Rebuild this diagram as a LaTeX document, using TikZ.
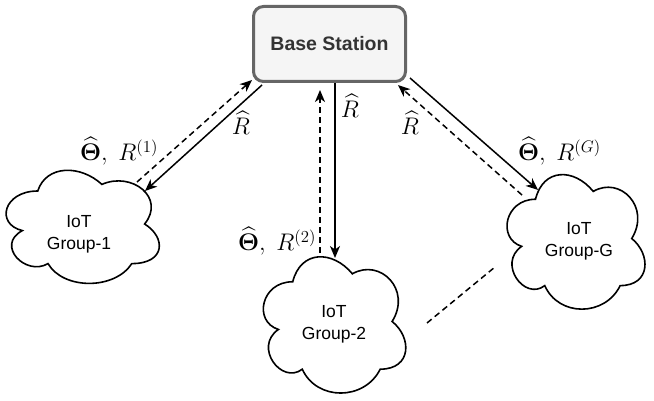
\documentclass[tikz,border=0pt]{standalone}
\usepackage{fix-cm}
\usepackage{amsmath,amssymb}
\usepackage{fontspec}
\newfontfamily\arialf{Liberation Sans}
\usetikzlibrary{arrows.meta}
\definecolor{bsfill}{HTML}{F5F5F5}
\definecolor{bsline}{HTML}{666666}
\definecolor{bstext}{HTML}{333333}
% draw.io cloud outline in the box (#1,#2), width #3, height #4 (y downwards)
\newcommand{\iotcloud}[4]{%
  \def\qx{#1}\def\qy{#2}\def\qw{#3}\def\qh{#4}%
  \draw[cloudline]
    ({\qx+0.25*\qw},{\qy+0.25*\qh})
    .. controls ({\qx+0.05*\qw},{\qy+0.25*\qh}) and ({\qx+0*\qw},{\qy+0.5*\qh}) .. ({\qx+0.16*\qw},{\qy+0.55*\qh})
    .. controls ({\qx+0*\qw},{\qy+0.66*\qh}) and ({\qx+0.18*\qw},{\qy+0.9*\qh}) .. ({\qx+0.31*\qw},{\qy+0.8*\qh})
    .. controls ({\qx+0.4*\qw},{\qy+1*\qh}) and ({\qx+0.7*\qw},{\qy+1*\qh}) .. ({\qx+0.8*\qw},{\qy+0.8*\qh})
    .. controls ({\qx+1*\qw},{\qy+0.8*\qh}) and ({\qx+1*\qw},{\qy+0.6*\qh}) .. ({\qx+0.875*\qw},{\qy+0.5*\qh})
    .. controls ({\qx+1*\qw},{\qy+0.3*\qh}) and ({\qx+0.8*\qw},{\qy+0.1*\qh}) .. ({\qx+0.625*\qw},{\qy+0.2*\qh})
    .. controls ({\qx+0.5*\qw},{\qy+0.05*\qh}) and ({\qx+0.3*\qw},{\qy+0.05*\qh}) .. ({\qx+0.25*\qw},{\qy+0.25*\qh})
    -- cycle;}
\begin{document}
\begin{tikzpicture}[x=1pt,y=-1pt,
  cloudline/.style={line width=1.6pt, fill=white, draw=black},
  cloudtext/.style={font=\arialf\fontsize{17.5}{22}\selectfont, align=center, inner sep=0pt},
  basebox/.style={draw=bsline, fill=bsfill, line width=3pt, rounded corners=10pt,
    minimum width=152pt, minimum height=75pt, inner sep=0pt,
    font=\arialf\bfseries\fontsize{19.5}{23}\selectfont, text=bstext},
  solidarrow/.style={line width=1.5pt, -{Stealth[length=12pt,width=10pt,inset=3.5pt]}},
  dashedarrow/.style={line width=1.5pt, dash pattern=on 6pt off 4pt, -{Stealth[length=12pt,width=10pt,inset=3.5pt]}},
  dashedlink/.style={line width=1.5pt, dash pattern=on 6pt off 4pt},
  mathlabel/.style={font=\fontsize{24}{28}\selectfont, inner sep=0pt}
]
\useasboundingbox (0,0) rectangle (654,401);

% clouds
\iotcloud{-5}{158}{171}{132}
\iotcloud{253}{242}{159}{159}
\iotcloud{497}{160}{154}{157}
\node[cloudtext] (g1) at (79,234.5) {IoT\\Group-1};
\node[cloudtext] (g2) at (334,324.6) {IoT\\Group-2};
\node[cloudtext] (gG) at (579,241.6) {IoT\\Group-G};

% base station
\node[basebox] (bs) at (329.5,44) {Base Station};

% connector end points
\coordinate (bsL1) at (262,85);
\coordinate (bsL2) at (252,80);
\coordinate (bsM1) at (320,90);
\coordinate (bsM2) at (335,83);
\coordinate (bsR1) at (410,78);
\coordinate (bsR2) at (398,85);
\coordinate (c1a) at (145,191);
\coordinate (c1b) at (137,182);
\coordinate (c2a) at (320,253);
\coordinate (c2b) at (335,258);
\coordinate (cGa) at (538,190);
\coordinate (cGb) at (522,195);
\coordinate (c2r) at (427,323);
\coordinate (cGl) at (495,267);

% connectors
\draw[solidarrow] (bsL1) -- (c1a);
\draw[dashedarrow] (c1b) -- (bsL2);
\draw[dashedarrow] (c2a) -- (bsM1);
\draw[solidarrow] (bsM2) -- (c2b);
\draw[solidarrow] (bsR1) -- (cGa);
\draw[dashedarrow] (cGb) -- (bsR2);
\draw[dashedlink] (c2r) -- (cGl);

% labels
\node[mathlabel, anchor=base west] (l1) at (80,161) {$\widehat{\boldsymbol{\Theta}},\; R^{(1)}$};
\node[mathlabel, anchor=base west] (l2) at (238,251) {$\widehat{\boldsymbol{\Theta}},\; R^{(2)}$};
\node[mathlabel, anchor=base west] (lG) at (518,161) {$\widehat{\boldsymbol{\Theta}},\; R^{(G)}$};
\node[mathlabel, anchor=base] (r1) at (241,135) {$\widehat{R}$};
\node[mathlabel, anchor=base] (r2) at (350,118) {$\widehat{R}$};
\node[mathlabel, anchor=base] (r3) at (410,135) {$\widehat{R}$};
\end{tikzpicture}
\end{document}
